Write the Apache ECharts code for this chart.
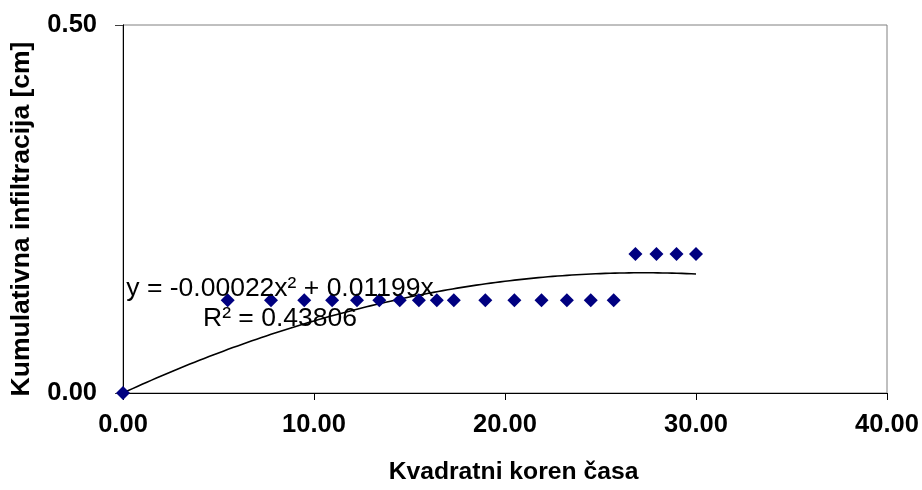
<!DOCTYPE html>
<html>
<head>
<meta charset="utf-8">
<script src="https://cdn.jsdelivr.net/npm/echarts@6/dist/echarts.min.js"></script>
<style>
html,body{margin:0;padding:0;background:#fff;}
#chart{width:922px;height:490px;}
</style>
</head>
<body>
<div id="chart"></div>
<script>
// Data
var xValues = [0.00, 5.48, 7.75, 9.49, 10.95, 12.25, 13.42, 14.49, 15.49, 16.43, 17.32,
               18.97, 20.49, 21.91, 23.24, 24.49, 25.69, 26.83, 27.93, 28.98, 30.00];
var yValues = [0.000, 0.126, 0.126, 0.126, 0.126, 0.126, 0.126, 0.126, 0.126, 0.126, 0.126,
               0.126, 0.126, 0.126, 0.126, 0.126, 0.126, 0.189, 0.189, 0.189, 0.189];
// Trendline coefficients as printed on the chart
var trendA = -0.00022;
var trendB = 0.01199;
var trendText = ['y = -0.00022x\u00b2 + 0.01199x', 'R\u00b2 = 0.43806'];
var xTitle = 'Kvadratni koren \u010dasa';
var yTitle = 'Kumulativna infiltracija [cm]';

var points = xValues.map(function (x, i) { return [x, yValues[i]]; });
var trend = [];
var xEnd = xValues[xValues.length - 1];
for (var k = 0; k <= 120; k++) {
  var x = xEnd * k / 120;
  trend.push([x, trendA * x * x + trendB * x]);
}

var FONT = 'Liberation Sans, Arial, sans-serif';
var chart = echarts.init(document.getElementById('chart'), null, {renderer: 'canvas'});
chart.setOption({
  animation: false,
  backgroundColor: '#fff',
  grid: {left: 123, right: 35, top: 25, bottom: 94, show: true, borderColor: '#808080', borderWidth: 1, containLabel: false},
  xAxis: [{
    type: 'value', min: 0, max: 40, interval: 10,
    axisLine: {show: true, onZero: false, lineStyle: {color: '#000', width: 1}},
    axisTick: {show: true, inside: false, length: 7, lineStyle: {color: '#000'}},
    splitLine: {show: false},
    axisLabel: {margin: 19, fontFamily: FONT, fontWeight: 'bold', fontSize: 25.5, color: '#000',
      formatter: function (v) { return v.toFixed(2); }},
    name: xTitle, nameLocation: 'middle', nameGap: 67,
    nameTextStyle: {fontFamily: FONT, fontWeight: 'bold', fontSize: 24.7, color: '#000', padding: [0, 0, 0, 17]}
  }],
  yAxis: [{
    type: 'value', min: 0, max: 0.5, interval: 0.5,
    axisLine: {show: true, onZero: false, lineStyle: {color: '#404040', width: 1}},
    axisTick: {show: true, inside: false, length: 8, lineStyle: {color: '#404040'}},
    splitLine: {show: false},
    axisLabel: {margin: 26, fontFamily: FONT, fontWeight: 'bold', fontSize: 25.5, color: '#000',
      formatter: function (v) { return v.toFixed(2); }},
    name: yTitle, nameLocation: 'middle', nameGap: 88, nameRotate: 90,
    nameTextStyle: {fontFamily: FONT, fontWeight: 'bold', fontSize: 26.5, color: '#000', padding: [0, 20, 0, 0]}
  }, {
    type: 'value', position: 'right', min: 0, max: 0.5, interval: 0.5,
    axisLine: {show: true, lineStyle: {color: '#000', width: 1}},
    axisTick: {show: false}, axisLabel: {show: false}, splitLine: {show: false}
  }],
  series: [{
    type: 'line', data: trend, showSymbol: false, symbol: 'none', smooth: false,
    lineStyle: {color: '#000', width: 1.6}, z: 2, silent: true
  }, {
    type: 'scatter', data: points, symbol: 'diamond', symbolSize: 14,
    itemStyle: {color: '#000080', opacity: 1}, z: 3
  }],
  graphic: [{
    type: 'text', x: 280, y: 273, z: 10,
    style: {text: trendText.join('\n'), fontFamily: FONT, fontSize: 26.5, lineHeight: 30.5,
      fill: '#000', align: 'center', verticalAlign: 'top'}
  }]
});
</script>
</body>
</html>
